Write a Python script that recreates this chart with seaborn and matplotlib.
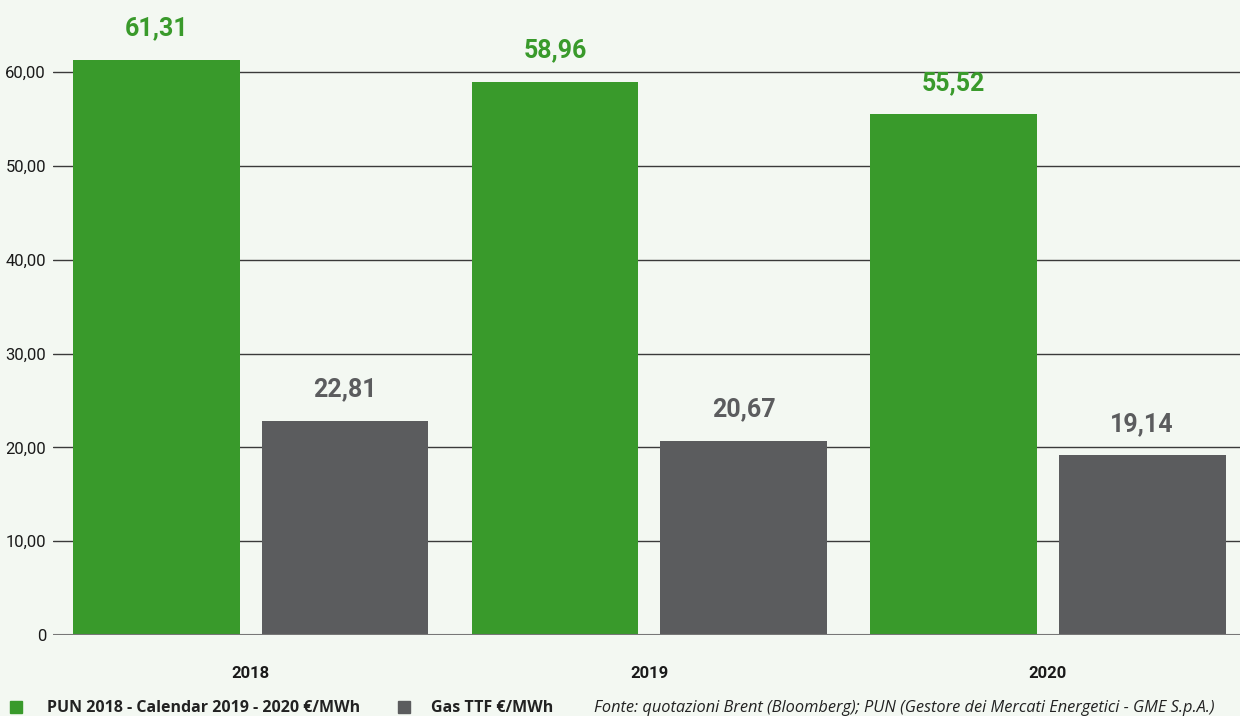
import numpy as np
import pandas as pd
import matplotlib
matplotlib.use("Agg")
import matplotlib.pyplot as plt
import seaborn as sns

# values from the chart
years = ["2018", "2019", "2020"]
pun = [61.31, 58.96, 55.52]
gas = [22.81, 20.67, 19.14]
series = ["PUN 2018 - Calendar 2019 - 2020 €/MWh", "Gas TTF €/MWh"]
yticks = [0, 10, 20, 30, 40, 50, 60]
source = "Fonte: quotazioni Brent (Bloomberg); PUN (Gestore dei Mercati Energetici - GME S.p.A.)"

green = "#399a2b"
grey = "#5b5c5e"
bg = "#f3f8f2"

df = pd.DataFrame({
    "anno": years * 2,
    "valore": pun + gas,
    "serie": [series[0]] * 3 + [series[1]] * 3,
})

sns.set_theme(style="white")
narrow = ["Roboto", "DejaVu Sans"]
plt.rcParams["font.family"] = narrow

fig = plt.figure(figsize=(12.4, 7.16), dpi=100, facecolor=bg)
ax = fig.add_axes([53 / 1240, 81 / 716, 1187 / 1240, 619 / 716])
ax.set_facecolor(bg)

sns.barplot(data=df, x="anno", y="valore", hue="serie", palette=[green, grey],
            width=0.947, gap=0.116, saturation=1, linewidth=0, legend=False,
            ax=ax, zorder=3)

ax.set_ylim(0, 66)
ax.set_xlim(-0.496, 2.482)
ax.set_yticks(yticks)
ax.set_yticklabels(["0"] + [f"{v:.2f}".replace(".", ",") for v in yticks[1:]])
for v in yticks[1:]:
    ax.axhline(v, color="#3a3a3a", lw=1, zorder=1)
ax.axhline(0, color="#777777", lw=1.5, zorder=4)
ax.tick_params(axis="y", length=0, pad=5, labelsize=12, labelcolor="#1a1a1a")
ax.tick_params(axis="x", length=0, pad=22, labelsize=12, labelcolor="#1a1a1a")
for lab in ax.get_xticklabels():
    lab.set_fontweight("bold")
ax.set_xlabel("")
ax.set_ylabel("")
sns.despine(ax=ax, left=True, bottom=True)

# value labels above the bars
for container, col in zip(ax.containers, [green, grey]):
    labels = [f"{b.get_height():.2f}".replace(".", ",") for b in container]
    ax.bar_label(container, labels=labels, padding=14, color=col,
                 fontsize=18, fontweight="bold")

# legend row and source
legend_font = ["Open Sans", "DejaVu Sans"]
fig.patches.append(plt.Rectangle((10 / 1240, 3 / 716), 12 / 1240, 12 / 716,
                                 transform=fig.transFigure, color=green))
fig.text(47 / 1240, 8 / 716, series[0], family=legend_font, fontsize=11.5,
         fontweight="bold", color="#222222", va="center")
fig.patches.append(plt.Rectangle((398 / 1240, 3 / 716), 12 / 1240, 12 / 716,
                                 transform=fig.transFigure, color=grey))
fig.text(431 / 1240, 8 / 716, series[1], family=legend_font, fontsize=11.5,
         fontweight="bold", color="#222222", va="center")
fig.text(594 / 1240, 8 / 716, source, family=legend_font, fontsize=11.8,
         style="italic", color="#222222", va="center")

fig.savefig("out.png", dpi=100, facecolor=bg)
